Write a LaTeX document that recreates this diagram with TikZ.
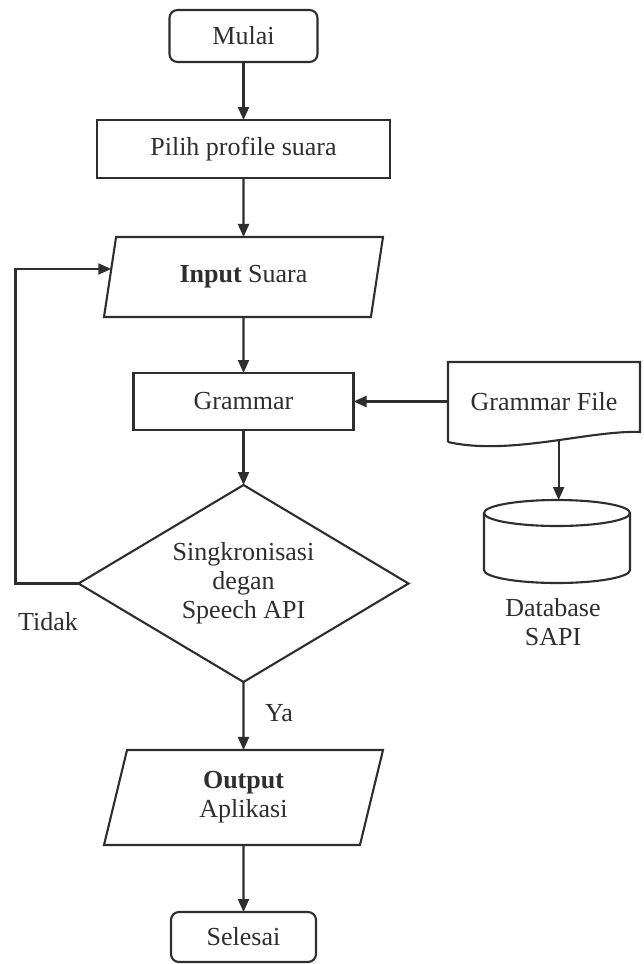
\documentclass[tikz,border=0pt]{standalone}
\usepackage{fontspec}
\setmainfont{Liberation Serif}
\usetikzlibrary{shapes.geometric,arrows.meta,calc}
\definecolor{ink}{HTML}{2E2E2E}
\begin{document}
\begin{tikzpicture}[x=1pt,y=-1pt,
  every node/.style={font=\fontsize{26}{29}\selectfont, text=ink},
  line/.style={draw=ink, line width=2.1pt},
  arr/.style={line, -{Triangle[length=13pt,width=11pt]}},
  box/.style={draw=ink, line width=2.1pt, rectangle, inner sep=0pt, outer sep=0pt},
  term/.style={box, rounded corners=8pt},
  io/.style={draw=ink, line width=2.1pt, trapezium, trapezium stretches body, inner sep=0pt, outer sep=0pt, align=center},
  lbl/.style={inner sep=0pt}
]
\fill[white] (0,0) rectangle (643,964);
\useasboundingbox (0,0) rectangle (643,964);

\node[term, minimum width=148pt, minimum height=52pt] (mulai) at (243.5,36) {Mulai};
\node[box, minimum width=293pt, minimum height=58pt] (pilih) at (243.5,149) {Pilih profile suara};
\node[io, trapezium left angle=62, trapezium right angle=118, minimum width=279pt, minimum height=80pt] (input) at (243.5,277) {\textbf{Input} Suara};
\node[box, minimum width=220pt, minimum height=57pt] (grammar) at (243.5,401.5) {Grammar};
\node[draw=ink, line width=2.1pt, diamond, aspect=1.68, minimum width=330pt, minimum height=197pt, inner sep=0pt, outer sep=0pt, align=center] (dec) at (243.5,583.5) {\raisebox{-3pt}{Singkronisasi}\\\raisebox{-3pt}{degan}\\\raisebox{-3pt}{Speech API}};
\node[io, trapezium left angle=66, trapezium right angle=114, minimum width=279pt, minimum height=95pt] (output) at (243.5,797.5) {\textbf{Output}\\Aplikasi};
\node[term, minimum width=145pt, minimum height=50pt] (selesai) at (243.5,937) {Selesai};

% Grammar File (document shape)
\node[inner sep=0pt, outer sep=0pt, minimum width=192pt, minimum height=80pt] (gfile) at (544,402) {Grammar File};
\draw[line] (gfile.south west) -- (gfile.north west) -- (gfile.north east) -- ++(0,70)
  .. controls (590,430) and (510,456) .. (gfile.south west) coordinate[pos=0.45] (wv);

% Database cylinder
\node[inner sep=0pt, outer sep=0pt, minimum width=146pt, minimum height=83pt] (db) at (557,541.5) {};
\draw[line] ($(db.north)+(0,13)$) ellipse [x radius=73pt, y radius=13pt];
\draw[line] ($(db.north west)+(0,13)$) -- ($(db.south west)+(0,-13)$)
  arc[start angle=180, end angle=360, x radius=73pt, y radius=13pt] -- ($(db.north east)+(0,13)$);
\node[lbl, align=center] (dblabel) at (553,622) {Database\\SAPI};

% labels
\node[lbl] (tidak) at (48,622) {Tidak};
\node[lbl] (ya) at (279,713) {Ya};

% connectors
\draw[arr] (mulai.south) -- (pilih.north);
\draw[arr] (pilih.south) -- (input.north);
\draw[arr] (input.south) -- (grammar.north);
\draw[arr] (grammar.south) -- (dec.north);
\draw[arr] (dec.south) -- (output.north);
\draw[arr] (output.south) -- (selesai.north);
\draw[arr] (gfile.west |- grammar.east) -- (grammar.east);
\draw[arr] (wv) -- (wv |- db.north);
\coordinate (inl) at ($(input.bottom left corner)!0.6!(input.top left corner)$);
\draw[arr] (dec.west) -- ++(-63,0) |- (inl);
\end{tikzpicture}
\end{document}
